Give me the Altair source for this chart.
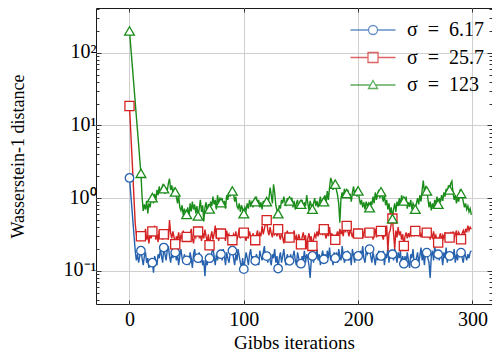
import altair as alt
import pandas as pd

# ---------------- data ----------------
labels = ["σ\u2002=\u20026.17", "σ\u2002=\u200225.7", "σ\u2002=\u2002123"]
colors = ["#2561ad", "#d42222", "#1a8c1a"]

w_sigma_6_17 = [
    1.9, 1.2, 0.76, 0.48, 0.3, 0.19, 0.14, 0.17, 0.13, 0.16,
    0.19, 0.15, 0.12, 0.16, 0.18, 0.13, 0.15, 0.11, 0.14, 0.12,
    0.13, 0.095, 0.16, 0.14, 0.12, 0.17, 0.15, 0.2, 0.16, 0.13,
    0.21, 0.17, 0.14, 0.19, 0.22, 0.16, 0.13, 0.18, 0.15, 0.2,
    0.18, 0.14, 0.17, 0.12, 0.16, 0.2, 0.15, 0.13, 0.17, 0.14,
    0.14, 0.16, 0.12, 0.18, 0.15, 0.11, 0.17, 0.2, 0.14, 0.16,
    0.15, 0.18, 0.13, 0.16, 0.12, 0.14, 0.085, 0.15, 0.12, 0.17,
    0.15, 0.13, 0.18, 0.21, 0.16, 0.12, 0.17, 0.14, 0.19, 0.15,
    0.17, 0.14, 0.2, 0.16, 0.12, 0.18, 0.15, 0.13, 0.17, 0.22,
    0.19, 0.15, 0.12, 0.17, 0.14, 0.2, 0.16, 0.13, 0.11, 0.15,
    0.106, 0.14, 0.18, 0.15, 0.12, 0.17, 0.2, 0.14, 0.16, 0.13,
    0.138, 0.17, 0.15, 0.12, 0.19, 0.16, 0.14, 0.18, 0.22, 0.15,
    0.16, 0.13, 0.18, 0.14, 0.12, 0.17, 0.15, 0.2, 0.13, 0.16,
    0.108, 0.15, 0.18, 0.13, 0.16, 0.2, 0.14, 0.12, 0.17, 0.15,
    0.138, 0.17, 0.13, 0.16, 0.19, 0.14, 0.12, 0.18, 0.15, 0.13,
    0.126, 0.16, 0.14, 0.19, 0.13, 0.17, 0.15, 0.12, 0.08, 0.14,
    0.161, 0.13, 0.18, 0.15, 0.2, 0.14, 0.17, 0.12, 0.16, 0.19,
    0.145, 0.17, 0.13, 0.19, 0.15, 0.21, 0.14, 0.16, 0.12, 0.18,
    0.15, 0.18, 0.13, 0.2, 0.16, 0.14, 0.22, 0.17, 0.13, 0.15,
    0.161, 0.19, 0.14, 0.17, 0.12, 0.2, 0.16, 0.13, 0.18, 0.15,
    0.161, 0.14, 0.19, 0.16, 0.22, 0.15, 0.13, 0.18, 0.17, 0.2,
    0.2, 0.16, 0.13, 0.18, 0.15, 0.12, 0.17, 0.14, 0.19, 0.15,
    0.161, 0.14, 0.19, 0.12, 0.17, 0.15, 0.21, 0.13, 0.18, 0.16,
    0.17, 0.14, 0.2, 0.16, 0.13, 0.18, 0.15, 0.19, 0.12, 0.16,
    0.126, 0.16, 0.13, 0.18, 0.14, 0.11, 0.17, 0.15, 0.2, 0.13,
    0.126, 0.15, 0.18, 0.13, 0.16, 0.21, 0.14, 0.17, 0.12, 0.19,
    0.179, 0.15, 0.13, 0.08, 0.16, 0.19, 0.14, 0.22, 0.17, 0.15,
    0.17, 0.14, 0.19, 0.16, 0.12, 0.18, 0.15, 0.21, 0.13, 0.17,
    0.161, 0.14, 0.18, 0.15, 0.2, 0.13, 0.17, 0.14, 0.19, 0.16,
    0.179, 0.15, 0.13, 0.18, 0.16, 0.14, 0.17, 0.15, 0.18, 0.19,
]

w_sigma_25_7 = [
    18.5, 8.8, 4.2, 2.0, 0.95, 0.45, 0.32, 0.27, 0.33, 0.29,
    0.3, 0.26, 0.34, 0.29, 0.38, 0.27, 0.31, 0.24, 0.33, 0.28,
    0.35, 0.3, 0.42, 0.27, 0.32, 0.25, 0.36, 0.29, 0.31, 0.27,
    0.32, 0.28, 0.36, 0.3, 0.27, 0.5, 0.33, 0.28, 0.35, 0.29,
    0.233, 0.3, 0.27, 0.34, 0.25, 0.31, 0.28, 0.36, 0.26, 0.3,
    0.294, 0.33, 0.26, 0.31, 0.38, 0.28, 0.24, 0.32, 0.29, 0.35,
    0.348, 0.29, 0.31, 0.26, 0.33, 0.28, 0.37, 0.3, 0.25, 0.32,
    0.226, 0.29, 0.35, 0.27, 0.32, 0.42, 0.28, 0.31, 0.26, 0.33,
    0.327, 0.28, 0.34, 0.3, 0.26, 0.36, 0.29, 0.32, 0.27, 0.31,
    0.265, 0.32, 0.29, 0.35, 0.27, 0.31, 0.38, 0.28, 0.33, 0.3,
    0.337, 0.29, 0.26, 0.32, 0.28, 0.35, 0.3, 0.24, 0.33, 0.29,
    0.265, 0.31, 0.36, 0.28, 0.33, 0.3, 0.42, 0.32, 0.38, 0.45,
    0.5, 0.36, 0.31, 0.4, 0.33, 0.29, 0.37, 0.32, 0.35, 0.3,
    0.375, 0.31, 0.27, 0.34, 0.29, 0.24, 0.32, 0.28, 0.36, 0.3,
    0.288, 0.33, 0.26, 0.31, 0.36, 0.27, 0.3, 0.25, 0.32, 0.28,
    0.233, 0.29, 0.34, 0.27, 0.31, 0.2, 0.28, 0.33, 0.26, 0.3,
    0.221, 0.27, 0.32, 0.29, 0.35, 0.3, 0.38, 0.33, 0.36, 0.31,
    0.375, 0.32, 0.28, 0.35, 0.3, 0.4, 0.29, 0.33, 0.27, 0.31,
    0.268, 0.31, 0.35, 0.29, 0.38, 0.32, 0.36, 0.3, 0.41, 0.34,
    0.417, 0.35, 0.3, 0.38, 0.33, 0.29, 0.36, 0.31, 0.34, 0.3,
    0.327, 0.36, 0.3, 0.34, 0.28, 0.33, 0.38, 0.29, 0.32, 0.35,
    0.337, 0.3, 0.36, 0.27, 0.32, 0.38, 0.29, 0.33, 0.31, 0.35,
    0.355, 0.31, 0.27, 0.34, 0.3, 0.42, 0.19, 0.33, 0.36, 0.45,
    0.525, 0.33, 0.2, 0.36, 0.29, 0.4, 0.31, 0.35, 0.27, 0.32,
    0.221, 0.3, 0.34, 0.28, 0.33, 0.29, 0.36, 0.31, 0.35, 0.3,
    0.355, 0.32, 0.37, 0.3, 0.34, 0.29, 0.33, 0.36, 0.31, 0.35,
    0.337, 0.3, 0.34, 0.27, 0.32, 0.29, 0.35, 0.28, 0.31, 0.26,
    0.246, 0.29, 0.33, 0.27, 0.31, 0.28, 0.34, 0.3, 0.26, 0.32,
    0.288, 0.33, 0.3, 0.35, 0.28, 0.32, 0.36, 0.29, 0.34, 0.31,
    0.273, 0.33, 0.36, 0.31, 0.38, 0.34, 0.42, 0.36, 0.4, 0.375,
]

w_sigma_123 = [
    199, 127, 81, 52, 33, 21, 13.3, 8.5, 5.4, 3.4,
    2.2, 1.05, 0.67, 0.82, 0.7, 0.92, 0.62, 0.85, 0.75, 0.95,
    1.02, 0.85, 1.15, 0.9, 1.3, 1.1, 1.45, 1.2, 1.35, 1.5,
    1.35, 1.15, 1.4, 1.25, 1.6, 1.85, 1.3, 1.5, 1.15, 1.35,
    1.22, 1.05, 0.85, 1.1, 0.75, 0.68, 0.8, 0.58, 0.72, 0.63,
    0.6, 0.75, 0.52, 0.85, 0.66, 0.9, 0.7, 0.82, 0.62, 0.78,
    0.57, 0.72, 0.95, 0.65, 0.8, 0.48, 0.75, 0.88, 0.62, 0.83,
    0.713, 0.9, 0.78, 1.05, 0.82, 0.95, 0.7, 1.1, 0.85, 0.98,
    0.87, 1.0, 0.78, 0.92, 0.72, 1.1, 0.95, 1.2, 1.05, 1.3,
    1.26, 1.15, 0.9, 1.05, 0.78, 0.72, 0.85, 0.65, 0.8, 0.7,
    0.614, 0.75, 0.68, 0.85, 0.72, 0.95, 0.8, 0.88, 0.75, 0.92,
    0.898, 1.05, 0.82, 0.95, 0.75, 0.88, 0.7, 0.92, 0.8, 0.85,
    0.898, 0.78, 1.0, 1.4, 1.1, 0.85, 1.55, 1.2, 0.8, 0.68,
    0.614, 0.8, 0.72, 0.95, 0.85, 1.05, 0.88, 0.78, 1.0, 0.9,
    0.918, 0.8, 1.02, 0.75, 0.92, 0.7, 0.85, 0.95, 0.72, 0.88,
    0.827, 0.95, 0.72, 0.88, 0.78, 1.1, 0.85, 0.68, 0.92, 0.8,
    0.706, 0.85, 1.0, 0.78, 0.92, 0.75, 0.88, 1.05, 0.82, 0.95,
    0.898, 1.1, 0.85, 1.25, 0.95, 1.4, 1.9, 1.7, 1.3, 1.6,
    1.56, 1.3, 1.1, 0.85, 0.46, 1.0, 1.2, 1.05, 1.35, 1.15,
    1.16, 1.3, 1.0, 1.15, 0.9, 1.2, 1.45, 1.1, 1.3, 1.05,
    1.26, 1.0, 0.82, 0.95, 0.75, 0.88, 0.7, 0.9, 0.78, 0.85,
    0.743, 0.9, 0.8, 1.05, 0.85, 1.2, 0.95, 1.1, 1.3, 1.0,
    1.23, 1.05, 0.9, 1.15, 0.8, 0.95, 0.7, 0.85, 0.62, 0.75,
    0.525, 0.7, 0.85, 0.65, 0.9, 0.78, 1.0, 0.82, 1.1, 0.95,
    0.918, 0.8, 1.05, 0.72, 0.88, 0.76, 0.95, 0.7, 0.85, 0.78,
    0.706, 0.85, 1.0, 0.82, 1.1, 0.9, 1.3, 1.75, 1.2, 1.4,
    1.26, 1.0, 0.75, 0.9, 0.68, 0.85, 0.72, 0.95, 0.8, 1.05,
    0.827, 1.0, 0.88, 1.1, 0.92, 1.2, 1.05, 1.35, 1.15, 1.5,
    1.3, 1.6, 1.72, 1.2, 0.95, 1.1, 0.85, 1.0, 0.9, 1.25,
    1.16, 1.05, 0.9, 0.75, 0.85, 0.7, 0.78, 0.65, 0.72, 0.59,
]

x_ticks = [0, 100, 200, 300]
y_major = [0.1, 1, 10, 100]
y_minor = [0.04, 0.05, 0.06, 0.07, 0.08, 0.09,
           0.2, 0.3, 0.4, 0.5, 0.6, 0.7, 0.8, 0.9,
           2, 3, 4, 5, 6, 7, 8, 9,
           20, 30, 40, 50, 60, 70, 80, 90,
           200, 300, 400]

rows = []
for lab, vals in zip(labels, [w_sigma_6_17, w_sigma_25_7, w_sigma_123]):
    for i, v in enumerate(vals):
        rows.append({"iter": i, "w": v, "series": lab})
df = pd.DataFrame(rows)

# ---------------- styling ----------------
W, H = 396, 296
FONT = "'Liberation Serif', 'Times New Roman', serif"
GRID = "#cfcfcf"
TICK = "#333333"
Y_LABEL_EXPR = ("datum.value > 50 ? '10\u00b2' : datum.value > 5 ? '10\u00b9' : "
                "datum.value > 0.5 ? '10\u2070' : '10\u207b\u00b9'")

xs = alt.Scale(domain=[-29.3, 317.1], nice=False, zero=False)
ys = alt.Scale(type="log", domain=[0.0352, 411], nice=False)
col_scale = alt.Scale(domain=labels, range=colors)


def ax(**kw):
    d = dict(domain=False, grid=False, ticks=False, labels=False,
             tickSize=0, labelPadding=0, labelOverlap=False,
             labelFlush=False, labelBound=False, labelFont=FONT,
             labelColor="black")
    d.update(kw)
    return alt.Axis(**d)


base = alt.Chart(df)

# lines
lines = base.mark_line(strokeWidth=1.4).encode(
    x=alt.X("iter:Q", scale=xs, title="Gibbs iterations",
            axis=ax(labels=True, grid=True, gridColor=GRID, values=x_ticks,
                    labelFontSize=20, labelPadding=21, labelBaseline="alphabetic",
                    titleFont=FONT, titleFontSize=19, titleFontWeight="normal",
                    titleColor="black", titleY=44, titleBaseline="alphabetic")),
    y=alt.Y("w:Q", scale=ys, title=None,
            axis=ax(orient="left", labels=True, values=y_major,
                    labelExpr=Y_LABEL_EXPR, labelFontSize=20, labelPadding=0,
                    labelBaseline="middle", labelOffset=-1)),
    color=alt.Color("series:N", scale=col_scale, legend=None),
)

# markers every 10 iterations
markers = base.mark_point(filled=False, fill="white", strokeWidth=1.3, opacity=1).encode(
    x=alt.X("iter:Q", scale=xs, title=None,
            axis=ax(orient="top", offset=-H, ticks=True, tickSize=4,
                    tickColor=TICK, values=x_ticks)),
    y=alt.Y("w:Q", scale=ys, title="Wasserstein-1 distance",
            axis=ax(orient="left", values=y_major,
                    titleFont=FONT, titleFontSize=18, titleFontWeight="normal",
                    titleColor="black", titleX=-73, titleY=148,
                    titleBaseline="alphabetic")),
    color=alt.Color("series:N", scale=col_scale, legend=None),
    shape=alt.Shape("series:N", scale=alt.Scale(domain=labels, range=["circle", "square", "triangle-up"]), legend=None),
    size=alt.Size("series:N", scale=alt.Scale(domain=labels, range=[72, 95, 85]), legend=None),
).transform_filter("datum.iter % 10 == 0")

# legend (line + marker symbols)
legend_paths = [
    "M-4.5,0L-0.9,0M0.9,0L4.5,0M0.9,0A0.9,0.9,0,1,1,-0.9,0A0.9,0.9,0,1,1,0.9,0Z",
    "M-4.5,0L-1,0M1,0L4.5,0M-1,-1L1,-1L1,1L-1,1Z",
    "M-4.5,0L-0.5,0M0.5,0L4.5,0M0,-0.9L0.9,0.7L-0.9,0.7Z",
]
leg = dict(orient="none", legendX=267, legendY=12, padding=0, rowPadding=7.5,
           labelOffset=24, symbolSize=100, labelFont=FONT, labelFontSize=20,
           labelColor="black", symbolStrokeWidth=1.3)
legend_layer = base.mark_point(filled=False, strokeWidth=1.3).encode(
    x=alt.X("iter:Q", scale=xs, title=None,
            axis=ax(orient="bottom", offset=-H, ticks=True, tickSize=4,
                    tickColor=TICK, values=x_ticks)),
    y=alt.Y("w:Q", scale=ys, axis=None),
    color=alt.Color("series:N", scale=col_scale, title=None, legend=alt.Legend(**leg)),
    shape=alt.Shape("series:N", scale=alt.Scale(domain=labels, range=legend_paths),
                    title=None, legend=alt.Legend(**leg)),
).transform_filter("false")


def tick_layer(orient, values, size, grid=False):
    return base.mark_point(opacity=0).encode(
        x=alt.X("iter:Q", scale=xs, axis=None),
        y=alt.Y("w:Q", scale=ys, title=None,
                axis=ax(orient=orient, offset=-W, ticks=True, tickSize=size,
                        tickColor=TICK, values=values, grid=grid,
                        gridColor=GRID)),
    ).transform_filter("false")


chart = alt.layer(
    lines, markers, legend_layer,
    tick_layer("right", y_major, 5, grid=True), tick_layer("right", y_minor, 3),
    tick_layer("left", y_major, 5), tick_layer("left", y_minor, 3),
).resolve_scale(
    shape="independent", color="independent"
).resolve_axis(
    x="independent", y="independent"
).properties(
    width=W, height=H,
    padding={"left": 88, "top": 0, "right": 0, "bottom": 48},
    autosize=alt.AutoSizeParams(type="none"),
).configure_view(
    stroke="#1a1a1a", strokeWidth=1
)

chart.save("out.html", embed_options={"renderer": "svg", "actions": False})
